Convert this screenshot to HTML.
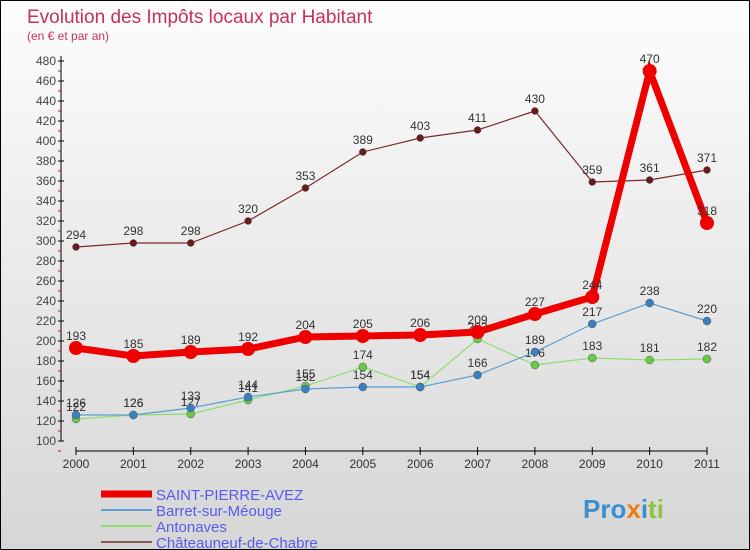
<!DOCTYPE html>
<html><head><meta charset="utf-8"><style>
body{margin:0}
#c{width:750px;height:550px;position:relative;box-sizing:border-box;border:1px solid #000;background:linear-gradient(#fdfdfd,#d6d6d6);font-family:"Liberation Sans",sans-serif;overflow:hidden}
</style></head><body>
<div id="c">
<svg id="s" width="750" height="550" style="position:absolute;left:0;top:0" font-family="Liberation Sans, sans-serif">
<text x="26" y="22" font-size="19" fill="#c8305a">Evolution des Impôts locaux par Habitant</text>
<text x="26" y="39" font-size="12" fill="#c8305a">(en € et par an)</text>
<g id="axes"></g><g id="series"></g>
<g id="legend"></g>
<text x="582" y="517" font-size="26" font-weight="bold"><tspan fill="#3a8fd0">Pro</tspan><tspan fill="#f07a10">x</tspan><tspan fill="#3a8fd0">i</tspan><tspan fill="#8cc63f">ti</tspan></text>
</svg>
</div>
<script>
const years=[2000,2001,2002,2003,2004,2005,2006,2007,2008,2009,2010,2011];
const yTicks=[100,120,140,160,180,200,220,240,260,280,300,320,340,360,380,400,420,440,460,480];
const saint=[193,185,189,192,204,205,206,209,227,244,470,318];
const barret=[126,126,133,144,152,154,154,166,189,217,238,220];
const antonaves=[122,126,127,141,155,174,154,202,176,183,181,182];
const chateau=[294,298,298,320,353,389,403,411,430,359,361,371];
const names=["SAINT-PIERRE-AVEZ","Barret-sur-Méouge","Antonaves","Châteauneuf-de-Chabre"];
const NS="http://www.w3.org/2000/svg";
const X=i=>75+i*(706-75)/11;
const Y=v=>540-v;
function mk(t,a,p){const e=document.createElementNS(NS,t);for(const k in a)e.setAttribute(k,a[k]);p.appendChild(e);return e;}
const ax=document.getElementById('axes');
let l=mk('line',{x1:60,y1:55,x2:60,y2:440,stroke:'#000'},ax);


l=mk('line',{x1:75,y1:450,x2:706,y2:450,stroke:'#000'},ax);


yTicks.forEach(v=>{
 mk('line',{x1:57,y1:Y(v),x2:63,y2:Y(v),stroke:'#000'},ax);
 mk('line',{x1:57,y1:Y(v)+10,x2:60,y2:Y(v)+10,stroke:'#e00'},ax);
 const t=mk('text',{x:55,y:Y(v)+4,'font-size':12,'text-anchor':'end',fill:'#444'},ax);t.textContent=v;
 
 
});
years.forEach((y,i)=>{
 mk('line',{x1:X(i),y1:446,x2:X(i),y2:454,stroke:'#000'},ax);
 const t=mk('text',{x:X(i),y:467,'font-size':12,'text-anchor':'middle',fill:'#333'},ax);t.textContent=y;
 
 
});
const sg=document.getElementById('series');
const defs=[[chateau,'#7a2a2a','#6a1a1a',1.2,3.5],[antonaves,'#90dd70','#66cc44',1.2,4],[barret,'#5a9fd0','#3a80c0',1.2,4],[saint,'#ee0000','#ee0000',7,7]];
const sn=['series-chateauneuf','series-antonaves','series-barret','series-saint-pierre-avez'];
defs.forEach((d,k)=>{
 const g=mk('g',{},sg);
 
 
 mk('polyline',{points:d[0].map((v,i)=>X(i)+','+Y(v)).join(' '),fill:'none',stroke:d[1],'stroke-width':d[3]},g);
 d[0].forEach((v,i)=>{
  const c=mk('circle',{cx:X(i),cy:Y(v),r:d[4],fill:d[2],stroke:k==3?'none':'#555','stroke-width':0.5},g);
  
  
  const t=mk('text',{x:X(i),y:Y(v)-8,'font-size':12,'text-anchor':'middle',fill:'#333'},g);t.textContent=v;
  
  
 });
});
const lg=document.getElementById('legend');
const lc=[['#ee0000',7],['#5a9fd0',2],['#90dd70',2],['#8a5a5a',2]];
names.forEach((n,i)=>{
 const y=493+i*16;
 mk('line',{x1:100,y1:y,x2:151,y2:y,stroke:lc[i][0],'stroke-width':lc[i][1]},lg);
 const t=mk('text',{x:155,y:y+6,'font-size':15,fill:'#5a5aee'},lg);t.textContent=n;
 
 
});
</script>
</body></html>
